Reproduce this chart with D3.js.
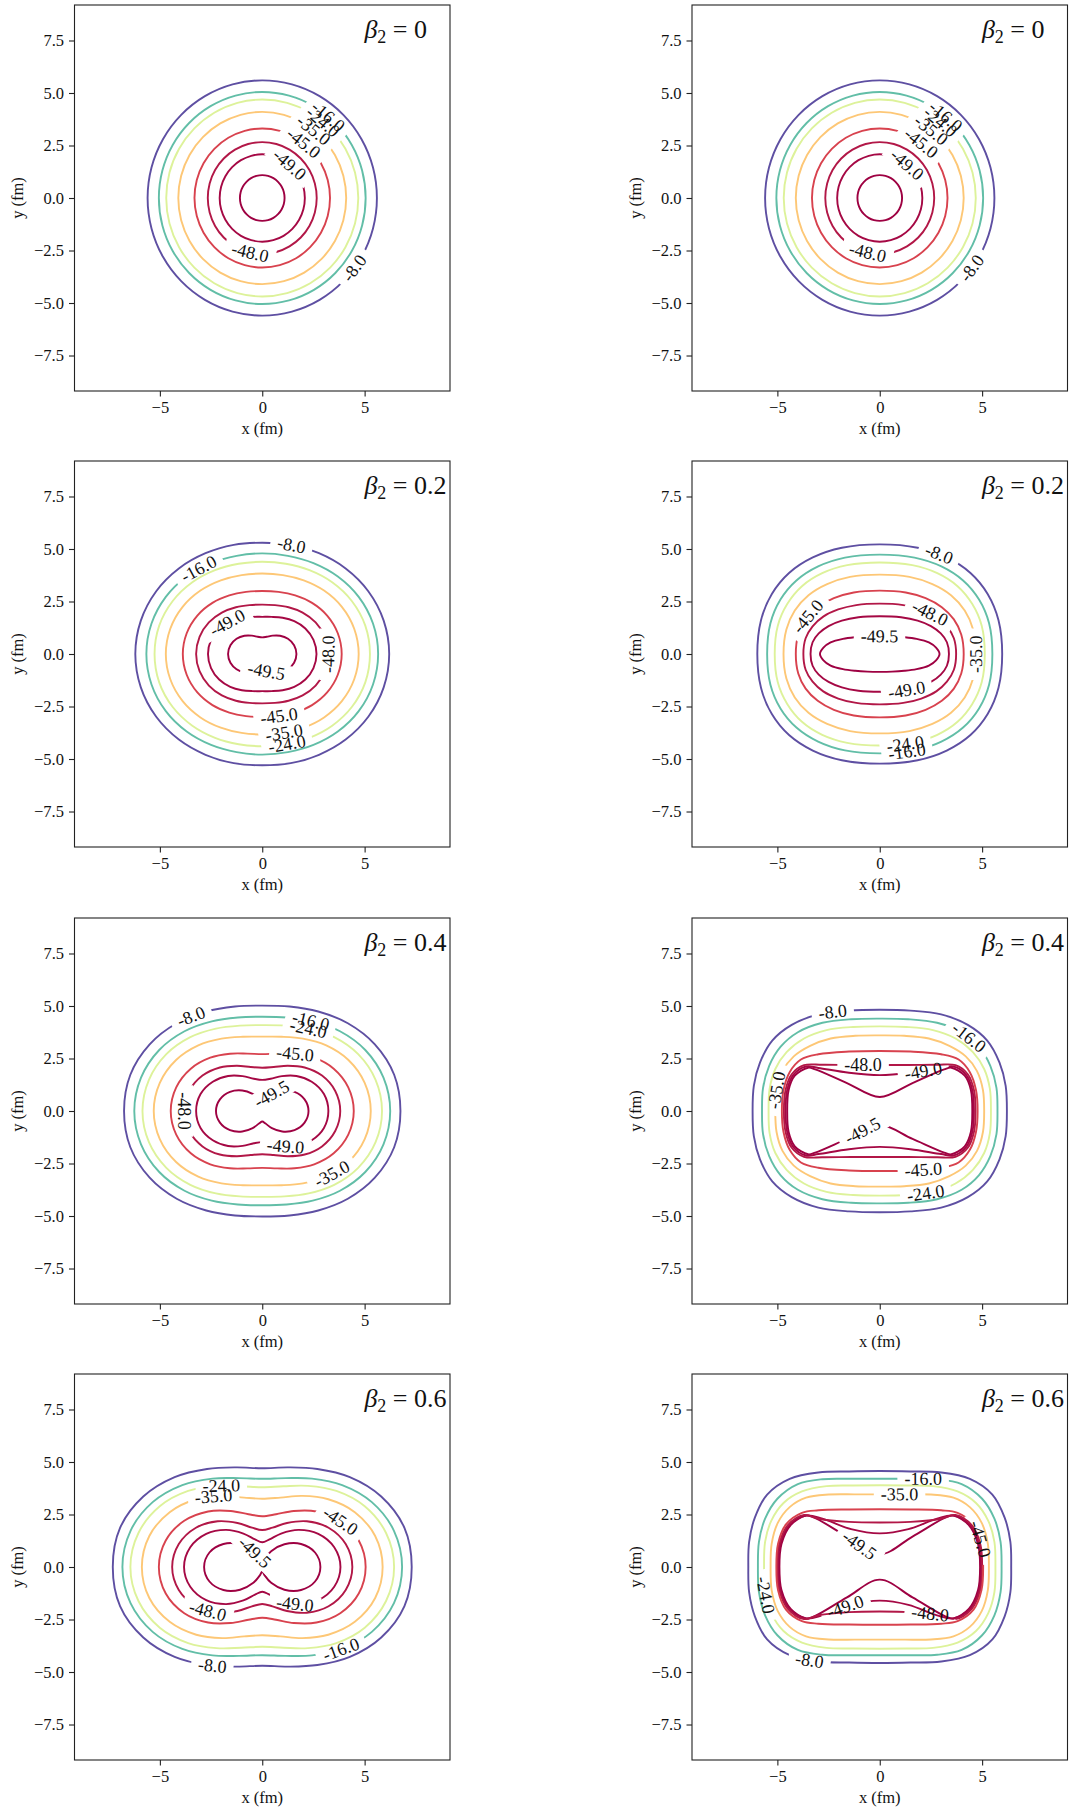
<!DOCTYPE html>
<html>
<head>
<meta charset="utf-8">
<script src="https://cdn.jsdelivr.net/npm/d3@7"></script>
<style>
  body { margin: 0; background: #fff; }
  text { font-family: "Liberation Serif", "DejaVu Serif", serif; fill: #111; }
</style>
</head>
<body>
<svg id="fig" width="1070" height="1809"></svg>
<script>
/***** data *****/
// contour levels (MeV), drawn low -> high
const levels = [-49.5, -49.0, -48.0, -45.0, -35.0, -24.0, -16.0, -8.0];
const betas = [0, 0.2, 0.4, 0.6];
const xTicks = [-5, 0, 5];
const yTicks = [-7.5, -5, -2.5, 0, 2.5, 5, 7.5];

// left column: radius (fm) of each contour at these polar angles (deg), first quadrant
const angles = [0, 15, 30, 45, 60, 75, 90];
const radii_b00 = [
  [1.09, 1.09, 1.09, 1.09, 1.09, 1.09, 1.09],
  [2.08, 2.08, 2.08, 2.08, 2.08, 2.08, 2.08],
  [2.66, 2.66, 2.66, 2.66, 2.66, 2.66, 2.66],
  [3.31, 3.31, 3.31, 3.31, 3.31, 3.31, 3.31],
  [4.10, 4.10, 4.10, 4.10, 4.10, 4.10, 4.10],
  [4.69, 4.69, 4.69, 4.69, 4.69, 4.69, 4.69],
  [5.05, 5.05, 5.05, 5.05, 5.05, 5.05, 5.05],
  [5.60, 5.60, 5.60, 5.60, 5.60, 5.60, 5.60]
];
const radii_b02 = [
  [1.67, 1.61, 1.45, 1.23, 1.01, 0.85, 0.79],
  [2.65, 2.59, 2.43, 2.21, 1.99, 1.83, 1.77],
  [3.23, 3.17, 3.01, 2.79, 2.57, 2.41, 2.35],
  [3.88, 3.82, 3.66, 3.44, 3.22, 3.06, 3.00],
  [4.71, 4.65, 4.49, 4.27, 4.05, 3.89, 3.83],
  [5.26, 5.21, 5.05, 4.83, 4.61, 4.45, 4.39],
  [5.66, 5.60, 5.44, 5.22, 5.00, 4.84, 4.79],
  [6.20, 6.14, 5.98, 5.76, 5.54, 5.38, 5.30]
];
const radii_b04 = [
  [2.26, 2.14, 1.82, 1.38, 0.94, 0.62, 0.50],
  [3.23, 3.12, 2.79, 2.36, 1.92, 1.59, 1.48],
  [3.81, 3.69, 3.37, 2.93, 2.49, 2.17, 2.06],
  [4.47, 4.35, 4.03, 3.59, 3.15, 2.83, 2.71],
  [5.30, 5.18, 4.86, 4.42, 3.98, 3.66, 3.54],
  [5.85, 5.73, 5.41, 4.97, 4.53, 4.21, 4.09],
  [6.25, 6.13, 5.81, 5.37, 4.93, 4.61, 4.49],
  [6.75, 6.67, 6.35, 5.91, 5.47, 5.15, 5.02]
];
const radii_b06 = [
  [2.84, 2.67, 2.19, 1.53, 0.87, 0.39, 0.21],
  [3.82, 3.64, 3.16, 2.50, 1.84, 1.36, 1.18],
  [4.40, 4.22, 3.74, 3.08, 2.42, 1.94, 1.76],
  [5.05, 4.88, 4.40, 3.74, 3.08, 2.60, 2.42],
  [5.88, 5.71, 5.22, 4.56, 3.91, 3.42, 3.25],
  [6.44, 6.26, 5.78, 5.12, 4.46, 3.98, 3.80],
  [6.83, 6.66, 6.18, 5.52, 4.86, 4.38, 4.20],
  [7.30, 7.19, 6.71, 6.05, 5.39, 4.91, 4.70]
];

// right column: first-quadrant points (x, y in fm) of each contour, from (x,0) to (0,y)
const points_b02 = [
  [[2.92,0],[2.75,0.3],[2.4,0.55],[1.8,0.72],[1.2,0.8],[0.6,0.84],[0,0.85]],
  [[3.38,0],[3.28,0.56],[2.98,0.98],[2.5,1.33],[1.85,1.59],[1.04,1.75],[0,1.8]],
  [[3.73,0],[3.62,0.75],[3.28,1.32],[2.76,1.78],[2.03,2.12],[1.15,2.33],[0,2.4]],
  [[4.1,0],[3.98,0.93],[3.62,1.65],[3.03,2.23],[2.24,2.66],[1.27,2.93],[0,3.02]],
  [[4.7,0],[4.56,1.17],[4.15,2.07],[3.48,2.8],[2.57,3.33],[1.45,3.67],[0,3.78]],
  [[5.13,0],[4.98,1.35],[4.52,2.38],[3.8,3.23],[2.81,3.85],[1.59,4.23],[0,4.36]],
  [[5.5,0],[5.34,1.46],[4.85,2.59],[4.07,3.5],[3.01,4.17],[1.7,4.59],[0,4.73]],
  [[5.98,0],[5.8,1.61],[5.27,2.86],[4.43,3.86],[3.27,4.6],[1.85,5.06],[0,5.22]]
];
const points_b04 = [
  [[4.52,0],[4.45,1.0],[4.15,1.68],[3.5,2.06],[3.15,1.98],[1.6,1.33],[0,0.67]],
  [[4.6,0],[4.52,1.0],[4.22,1.72],[3.6,2.12],[3.0,2.05],[1.5,1.82],[0,1.71]],
  [[4.68,0],[4.6,1.0],[4.3,1.75],[3.7,2.18],[2.8,2.2],[1.4,2.19],[0,2.19]],
  [[4.78,0],[4.7,1.0],[4.4,1.85],[3.85,2.45],[3.0,2.7],[1.5,2.83],[0,2.86]],
  [[5.1,0],[5.04,1.0],[4.75,1.9],[4.2,2.6],[3.4,3.1],[2.4,3.45],[1.2,3.58],[0,3.6]],
  [[5.43,0],[5.38,1.05],[5.1,2.0],[4.55,2.8],[3.7,3.45],[2.6,3.85],[1.3,4.0],[0,4.03]],
  [[5.75,0],[5.7,1.1],[5.4,2.15],[4.85,3.05],[4.0,3.75],[2.8,4.2],[1.4,4.37],[0,4.4]],
  [[6.21,0],[6.15,1.2],[5.85,2.3],[5.25,3.35],[4.3,4.1],[3.0,4.6],[1.5,4.78],[0,4.82]]
];
const points_b06 = [
  [[4.9,0],[4.8,1.1],[4.35,2.0],[3.6,2.45],[3.2,2.35],[1.6,1.45],[0,0.6]],
  [[4.95,0],[4.88,1.0],[4.45,1.95],[3.6,2.45],[2.8,2.3],[1.4,1.8],[0,1.6]],
  [[5.0,0],[4.92,1.05],[4.5,1.98],[3.7,2.48],[3.0,2.3],[1.5,2.15],[0,2.12]],
  [[5.05,0],[4.97,1.1],[4.58,2.03],[3.8,2.58],[3.0,2.7],[1.5,2.74],[0,2.75]],
  [[5.33,0],[5.28,1.1],[4.98,2.1],[4.4,2.85],[3.6,3.3],[2.5,3.45],[1.2,3.46],[0,3.46]],
  [[5.65,0],[5.6,1.2],[5.3,2.2],[4.7,3.05],[3.8,3.6],[2.6,3.85],[1.3,3.88],[0,3.89]],
  [[5.95,0],[5.9,1.2],[5.6,2.3],[5.0,3.25],[4.0,3.95],[2.8,4.18],[1.4,4.2],[0,4.2]],
  [[6.42,0],[6.38,1.2],[6.1,2.35],[5.5,3.45],[4.4,4.2],[3.0,4.5],[1.5,4.55],[0,4.57]]
];

// inline contour labels: [level, approx x, approx y] (fm)
const labels_b00 = [[-16,3.22,3.9],[-24,2.95,3.62],[-35,2.52,3.25],[-45,2.0,2.6],[-49,1.32,1.57],[-48,-0.6,-2.6],[-8,4.45,-3.3]];
const labels_b02_left = [[-8,1.43,5.2],[-16,-3.13,4.09],[-49,-1.74,1.55],[-48,3.22,0],[-49.5,0.21,-0.79],[-45,0.81,-2.9],[-35,1.07,-3.7],[-24,1.19,-4.25]];
const labels_b02_right = [[-8,2.86,4.68],[-45,-3.43,1.71],[-48,2.37,1.76],[-49.5,0,0.84],[-35,4.66,0],[-49,1.31,-1.62],[-24,1.23,-4.23],[-16,1.31,-4.47]];
const labels_b04_left = [[-8,-3.5,4.57],[-16,2.36,4.22],[-24,2.25,3.95],[-45,1.6,2.77],[-49.5,0.42,0.84],[-48,-3.75,0],[-49,1.14,-1.62],[-35,3.35,-2.89]];
const labels_b04_right = [[-8,-2.29,4.71],[-16,4.25,3.36],[-35,-4.93,0.98],[-48,-0.82,2.22],[-49,2.12,1.9],[-49.5,-0.85,-0.92],[-45,2.12,-2.58],[-24,2.25,-3.93]];
const labels_b06_left = [[-24,-1.99,3.87],[-35,-2.39,3.36],[-45,3.79,2.17],[-49.5,-0.36,0.7],[-48,-2.64,-2.0],[-49,1.6,-1.71],[-16,3.8,-3.8],[-8,-2.43,-4.65]];
const labels_b06_right = [[-16,2.12,4.25],[-35,0.98,3.5],[-45,4.9,1.32],[-49.5,-0.98,1.08],[-24,-5.39,-1.3],[-49,-1.72,-1.78],[-48,2.45,-2.33],[-8,-3.43,-4.47]];

/***** helpers *****/
const polarQ1 = radii => radii.map((r, k) => {
  const a = angles[k] * Math.PI / 180;
  return [r * Math.cos(a), r * Math.sin(a)];
});

// first quadrant -> closed loop using the x / y symmetry
function mirror(q) {
  const n = q.length;
  const q2 = q.slice(0, n - 1).reverse().map(([u, v]) => [-u, v]);
  const q3 = q.slice(1).map(([u, v]) => [-u, -v]);
  const q4 = q.slice(1, n - 1).reverse().map(([u, v]) => [u, -v]);
  return q.concat(q2, q3, q4);
}

const spectral = d3.scaleLinear()
  .domain(d3.range(11).map(i => i / 10))
  .range(d3.schemeSpectral[11])
  .interpolate(d3.interpolateRgb);
const levelT = d3.scaleLinear().domain(d3.extent(levels)).range([0, 1]);
const minus = s => String(s).replace("-", "\u2212");

/***** layout *****/
const svg = d3.select("#fig");
const colX = [74.5, 692];
const rowY = [5, 461, 918, 1374];
const W = 375.5, H = 386;
const fs = 16.5;   // ticks, axis labels
const lfs = 18;    // contour labels

const panels = [
  { row: 0, col: 0, beta: betas[0], curves: radii_b00.map(polarQ1), labels: labels_b00 },
  { row: 0, col: 1, beta: betas[0], curves: radii_b00.map(polarQ1), labels: labels_b00 },
  { row: 1, col: 0, beta: betas[1], curves: radii_b02.map(polarQ1), labels: labels_b02_left },
  { row: 1, col: 1, beta: betas[1], curves: points_b02, labels: labels_b02_right },
  { row: 2, col: 0, beta: betas[2], curves: radii_b04.map(polarQ1), labels: labels_b04_left },
  { row: 2, col: 1, beta: betas[2], curves: points_b04, labels: labels_b04_right },
  { row: 3, col: 0, beta: betas[3], curves: radii_b06.map(polarQ1), labels: labels_b06_left },
  { row: 3, col: 1, beta: betas[3], curves: points_b06, labels: labels_b06_right }
];

panels.forEach((pn, pi) => {
  const x = d3.scaleLinear().domain([-9.17, 9.17]).range([0, W]);
  const y = d3.scaleLinear().domain([-9.19, 9.19]).range([H, 0]);
  const g = svg.append("g").attr("transform", `translate(${colX[pn.col]},${rowY[pn.row]})`);
  const defs = g.append("defs");
  defs.append("clipPath").attr("id", "clip" + pi)
    .append("rect").attr("width", W).attr("height", H);

  const line = d3.line()
    .x(d => x(d[0])).y(d => y(d[1]))
    .curve(d3.curveCatmullRomClosed.alpha(0.5));

  const plot = g.append("g").attr("clip-path", `url(#clip${pi})`);
  const paths = pn.curves.map((q, i) =>
    plot.append("path")
      .attr("d", line(mirror(q)))
      .attr("fill", "none")
      .attr("stroke", spectral(levelT(levels[i])))
      .attr("stroke-width", 1.9)
  );

  // inline labels: snap to the contour, follow its direction, cut the line under the text
  const cuts = {};
  pn.labels.forEach(([lev, lx, ly]) => {
    const i = levels.indexOf(lev);
    const node = paths[i].node();
    const L = node.getTotalLength();
    const tx = x(lx), ty = y(ly);
    let best = 0, bd = Infinity;
    for (let s = 0; s <= L; s += 0.5) {
      const p = node.getPointAtLength(s);
      const d = (p.x - tx) ** 2 + (p.y - ty) ** 2;
      if (d < bd) { bd = d; best = s; }
    }
    const c = node.getPointAtLength(best);
    const p0 = node.getPointAtLength((best - 4 + L) % L);
    const p1 = node.getPointAtLength((best + 4) % L);
    let ang = Math.atan2(p1.y - p0.y, p1.x - p0.x) * 180 / Math.PI;
    if (ang > 90) ang -= 180;
    if (ang < -90) ang += 180;
    const t = g.append("text")
      .attr("transform", `translate(${c.x},${c.y}) rotate(${ang})`)
      .attr("text-anchor", "middle")
      .attr("dominant-baseline", "central")
      .style("font-size", lfs + "px")
      .text(lev.toFixed(1));
    const tw = t.node().getComputedTextLength();
    (cuts[i] = cuts[i] || []).push({ x: c.x, y: c.y, a: ang, w: tw + 14 });
  });
  Object.keys(cuts).forEach(i => {
    const m = defs.append("mask").attr("id", `m${pi}_${i}`)
      .attr("maskUnits", "userSpaceOnUse")
      .attr("x", -20).attr("y", -20).attr("width", W + 40).attr("height", H + 40);
    m.append("rect").attr("x", -20).attr("y", -20).attr("width", W + 40).attr("height", H + 40).attr("fill", "#fff");
    cuts[i].forEach(cu => {
      m.append("rect")
        .attr("transform", `translate(${cu.x},${cu.y}) rotate(${cu.a})`)
        .attr("x", -cu.w / 2).attr("y", -9).attr("width", cu.w).attr("height", 18)
        .attr("fill", "#000");
    });
    paths[i].attr("mask", `url(#m${pi}_${i})`);
  });

  // axes
  const ax = g.append("g").attr("transform", `translate(0,${H})`)
    .call(d3.axisBottom(x).tickValues(xTicks).tickSize(5.5).tickPadding(5).tickFormat(d => minus(d)));
  const ay = g.append("g")
    .call(d3.axisLeft(y).tickValues(yTicks).tickSize(5.5).tickPadding(5).tickFormat(d => minus(d.toFixed(1))));
  [ax, ay].forEach(a => {
    a.select(".domain").remove();
    a.selectAll("line").attr("stroke", "#222").attr("stroke-width", 1.1);
    a.selectAll("text").style("font-size", fs + "px").attr("fill", "#111")
      .style("font-family", '"Liberation Serif", serif');
  });
  g.append("rect").attr("width", W).attr("height", H)
    .attr("fill", "none").attr("stroke", "#222").attr("stroke-width", 1.1);

  g.append("text").attr("x", W / 2).attr("y", H + 43)
    .attr("text-anchor", "middle").style("font-size", fs + "px").text("x (fm)");
  g.append("text").attr("transform", `translate(-57,${H / 2}) rotate(-90)`)
    .attr("text-anchor", "middle").attr("dominant-baseline", "central")
    .style("font-size", fs + "px").text("y (fm)");

  const bt = g.append("text").attr("x", W * 0.772).attr("y", 33).style("font-size", "26px");
  bt.append("tspan").style("font-style", "italic").text("\u03B2");
  bt.append("tspan").attr("dy", 5).style("font-size", "18px").text("2");
  bt.append("tspan").attr("dy", -5).text(" = " + pn.beta);
});
</script>
</body>
</html>
